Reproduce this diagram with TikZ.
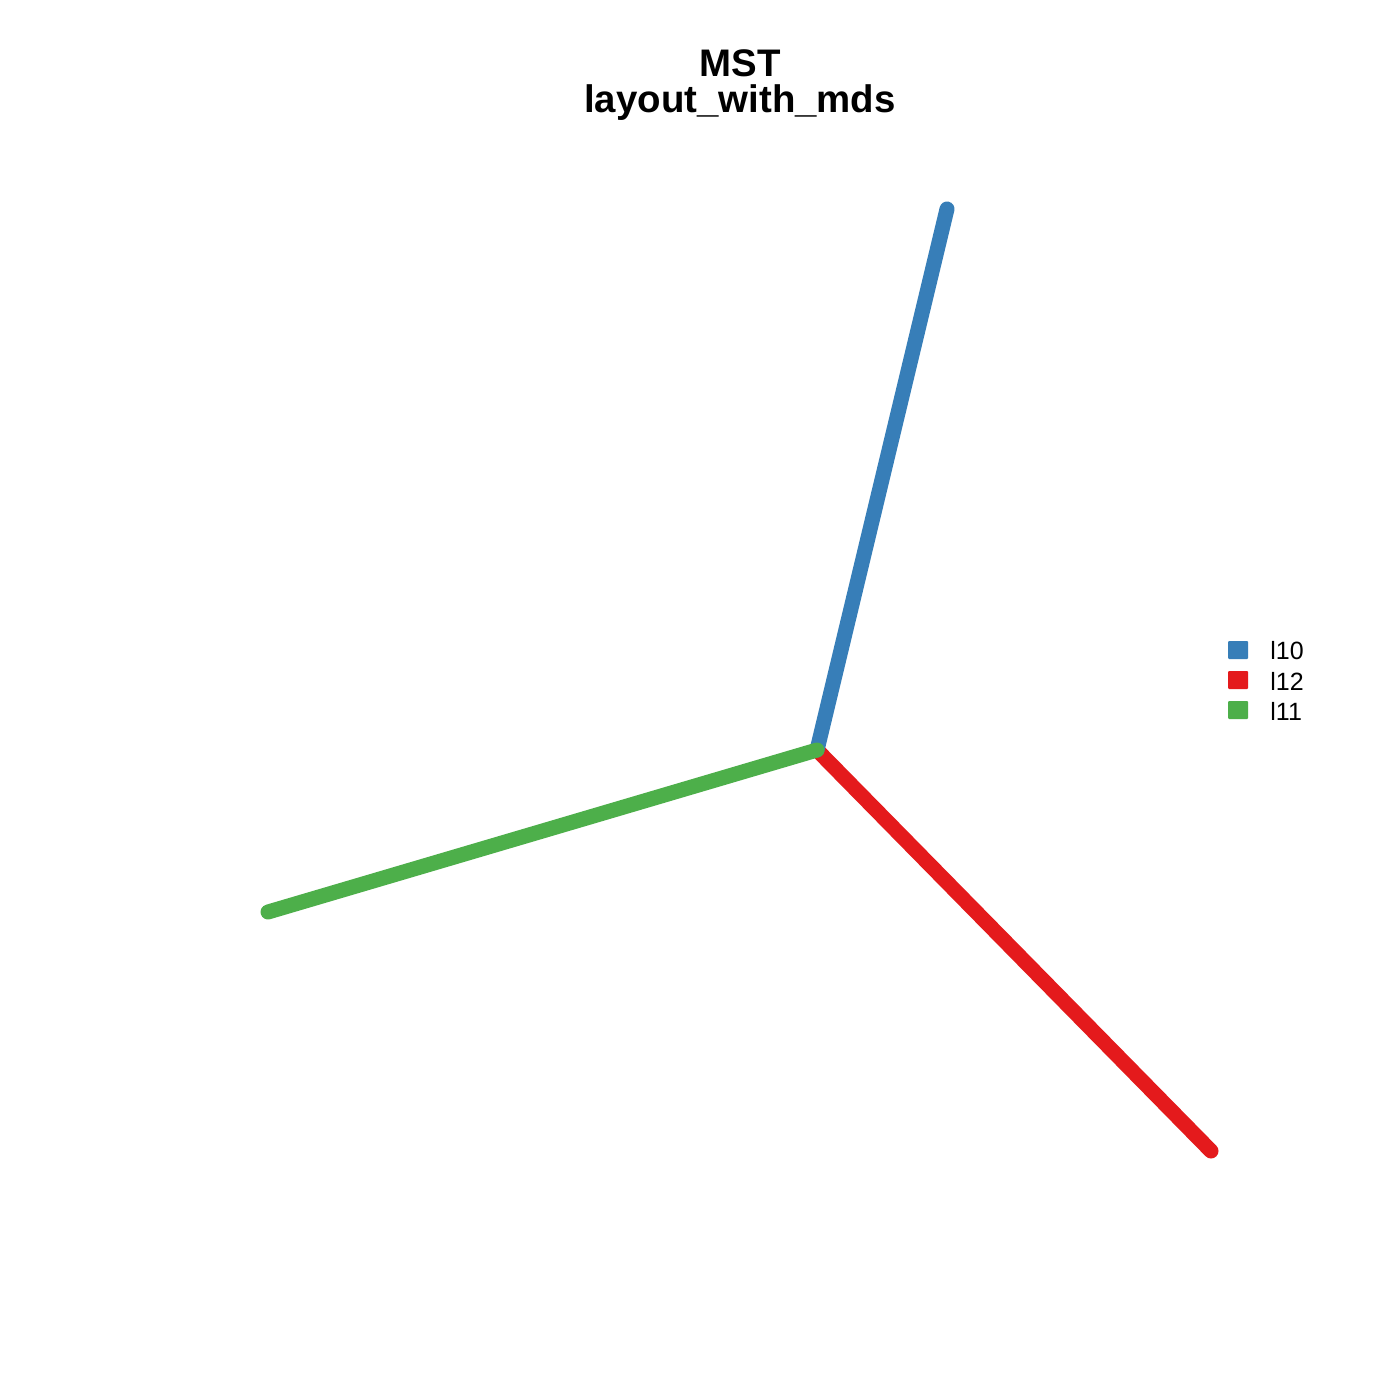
\documentclass[tikz,border=0pt]{standalone}
\usepackage{fontspec}
\setmainfont{Liberation Sans}
\definecolor{eblue}{HTML}{377EB8}
\definecolor{ered}{HTML}{E41A1C}
\definecolor{egreen}{HTML}{4DAF4A}
\begin{document}
\begin{tikzpicture}[x=0.5pt,y=-0.5pt,
  edge/.style={line width=7.5pt,line cap=round},
  legsq/.style={minimum width=10pt,minimum height=9pt,inner sep=0pt,rounded corners=0.5pt},
  legtxt/.style={anchor=west,inner sep=0pt,font=\fontsize{12.5}{15}\selectfont},
  ttl/.style={font=\bfseries\fontsize{19.2}{23}\selectfont,inner sep=0pt}]
\useasboundingbox[fill=white] (0,0) rectangle (1400,1400);
\node[ttl] (t1) at (740,63) {MST};
\node[ttl] (t2) at (740,103) {layout\_with\_mds};
\coordinate (c) at (817,750);
\coordinate (b) at (947,209);
\coordinate (r) at (1211,1151);
\coordinate (g) at (268,912);
\draw[edge,ered] (c) -- (r);
\draw[edge,eblue] (c) -- (b);
\draw[edge,egreen] (c) -- (g);
\node[legsq,fill=eblue] (s1) at (1238,650) {};
\node[legsq,fill=ered] (s2) at (1238,680) {};
\node[legsq,fill=egreen] (s3) at (1238,710) {};
\node[legtxt] (l1) at (1270,651) {l10};
\node[legtxt] (l2) at (1270,681) {l12};
\node[legtxt] (l3) at (1270,711) {l11};
\end{tikzpicture}
\end{document}
